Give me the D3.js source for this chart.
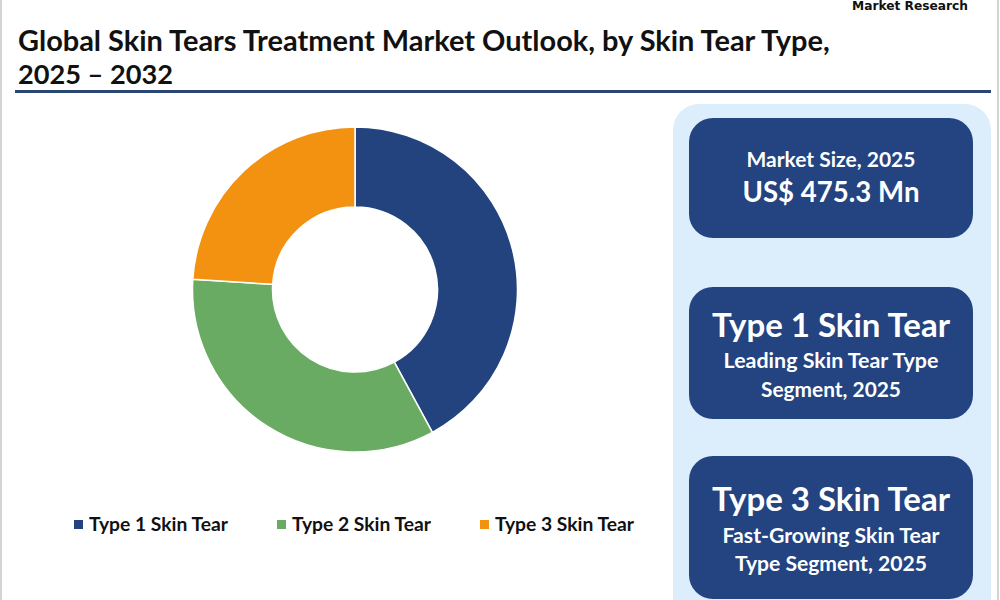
<!DOCTYPE html>
<html>
<head>
<meta charset="utf-8">
<script src="https://cdn.jsdelivr.net/npm/d3@7"></script>
<style>
  html, body { margin: 0; padding: 0; background: #fff; }
  svg { display: block; }
  text { font-family: "Lato", "Open Sans", sans-serif; }
</style>
</head>
<body>
<svg id="chart" width="1000" height="600"></svg>
<script>
// ---- data ----
const categories = ["Type 1 Skin Tear", "Type 2 Skin Tear", "Type 3 Skin Tear"];
const shares = [42.1, 33.9, 24.0];
const colors = ["#23437e", "#6aab64", "#f39110"];
const titleLines = ["Global Skin Tears Treatment Market Outlook, by Skin Tear Type,", "2025 \u2013 2032"];
const cardHeads = ["Market Size, 2025", "Type 1 Skin Tear", "Type 3 Skin Tear"];
const cardSubs = [["US$ 475.3 Mn"], ["Leading Skin Tear Type", "Segment, 2025"], ["Fast-Growing Skin Tear", "Type Segment, 2025"]];

const svg = d3.select("#chart");

// page borders
svg.append("rect").attr("x", 0).attr("y", 0).attr("width", 2).attr("height", 600).attr("fill", "#d4d4d4");
svg.append("rect").attr("x", 997).attr("y", 0).attr("width", 2).attr("height", 600).attr("fill", "#d4d4d4");

function fitText(sel, width) {
  const w = sel.node().getComputedTextLength();
  const fs = parseFloat(sel.attr("font-size"));
  sel.attr("font-size", fs * width / w);
  return sel;
}

// logo text (top edge)
const logo = svg.append("text").attr("x", 910).attr("y", 10).attr("text-anchor", "middle")
  .attr("font-weight", 900).attr("font-size", 12.5).attr("fill", "#111").text("Market Research")
  .style("font-family", "'DejaVu Sans', sans-serif");
fitText(logo, 116);

// title
const t1 = svg.append("text").attr("x", 18).attr("y", 51).attr("font-size", 28)
  .attr("font-weight", 700).attr("fill", "#111").text(titleLines[0]);
fitText(t1, 812);
const t2 = svg.append("text").attr("x", 18).attr("y", 84).attr("font-size", 28)
  .attr("font-weight", 700).attr("fill", "#111").text(titleLines[1]);
fitText(t2, 155);
svg.append("rect").attr("x", 15).attr("y", 90).attr("width", 976).attr("height", 3).attr("fill", "#2a4677");

// donut
const cx = 355, cy = 289.5, rOuter = 162.5, rInner = 82.5;
const pie = d3.pie().sort(null).value(d => d);
const arc = d3.arc().innerRadius(rInner).outerRadius(rOuter);
const g = svg.append("g").attr("transform", `translate(${cx},${cy})`);
g.selectAll("path").data(pie(shares)).join("path")
  .attr("d", arc)
  .attr("fill", (d, i) => colors[i])
  .attr("stroke", "#fff").attr("stroke-width", 1.5);

// legend
const legendX = [74, 277, 480];
const lg = svg.append("g");
categories.forEach((c, i) => {
  lg.append("rect").attr("x", legendX[i]).attr("y", 520).attr("width", 9).attr("height", 9).attr("fill", colors[i]);
  const lt = lg.append("text").attr("x", legendX[i] + 15).attr("y", 531).attr("font-size", 17)
    .attr("font-weight", 700).attr("fill", "#111").text(c);
  fitText(lt, 139);
});

// side panel
svg.append("rect").attr("x", 673).attr("y", 104).attr("width", 318).attr("height", 520)
  .attr("rx", 26).attr("fill", "#dcedfb");
const cards = [
  {y: 118, h: 120},
  {y: 287, h: 132},
  {y: 456, h: 143}
];
const cardX = 689, cardW = 284, midX = cardX + cardW / 2;
cards.forEach(c => {
  svg.append("rect").attr("x", cardX).attr("y", c.y).attr("width", cardW).attr("height", c.h)
    .attr("rx", 24).attr("fill", "#234381");
});
function cardText(txt, y, fs, width) {
  const t = svg.append("text").attr("x", midX).attr("y", y).attr("text-anchor", "middle").attr("font-size", fs)
    .attr("font-weight", 700).attr("fill", "#fff").text(txt);
  return fitText(t, width);
}
// card 1
cardText(cardHeads[0], 167, 18, 169);
cardText(cardSubs[0][0], 202, 26, 177);
// card 2
cardText(cardHeads[1], 337, 30, 238);
cardText(cardSubs[1][0], 368, 19, 215);
cardText(cardSubs[1][1], 397, 19, 140);
// card 3
cardText(cardHeads[2], 511, 30, 238);
cardText(cardSubs[2][0], 543, 19, 217);
cardText(cardSubs[2][1], 571, 19, 192);
</script>
</body>
</html>
